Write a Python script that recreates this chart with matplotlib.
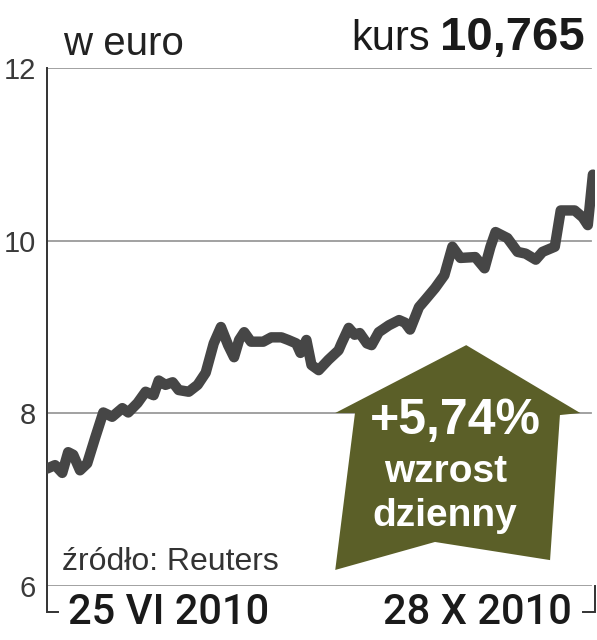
import matplotlib
matplotlib.use("Agg")
import matplotlib.pyplot as plt
from matplotlib.patches import Polygon

# days since 25 VI 2010 and EUR price
days = [0, 1.9, 3.6, 5.0, 6.2, 7.8, 9.5, 11.4, 13.3, 15.4, 17.8, 19.2, 21.4, 23.3,
        25.2, 26.4, 28.0, 29.7, 31.1, 33.5, 35.6, 37.5, 39.4, 41.1, 42.8, 44.2,
        45.4, 46.6, 48.2, 51.1, 53.0, 55.4, 57.0, 58.9, 59.9, 61.3, 62.5, 64.2,
        66.5, 68.9, 69.6, 71.3, 72.7, 73.9, 75.6, 76.7, 78.4, 80.8, 83.2, 84.6,
        85.8, 87.9, 89.3, 91.7, 93.9, 95.8, 97.7, 101.2, 103.4, 104.8, 106.0,
        108.8, 111.2, 113.1, 115.5, 117.1, 120.0, 121.4, 124.7, 126.6, 127.8, 129.0]
price = [7.36, 7.40, 7.31, 7.55, 7.52, 7.34, 7.42, 7.72, 8.01, 7.96, 8.06, 8.01, 8.12, 8.25,
         8.21, 8.38, 8.33, 8.36, 8.27, 8.25, 8.33, 8.47, 8.81, 9.00, 8.79, 8.65,
         8.85, 8.94, 8.83, 8.83, 8.88, 8.88, 8.85, 8.81, 8.70, 8.85, 8.56, 8.50,
         8.62, 8.73, 8.81, 8.99, 8.91, 8.93, 8.81, 8.79, 8.94, 9.02, 9.08, 9.05,
         8.97, 9.23, 9.31, 9.45, 9.60, 9.93, 9.80, 9.81, 9.68, 9.93, 10.10,
         10.03, 9.87, 9.85, 9.78, 9.87, 9.93, 10.35, 10.35, 10.27, 10.18, 10.765]

y_ticks = [6, 8, 10, 12]
date_labels = ["25 VI 2010", "28 X 2010"]
last_price = "10,765"
change = "+5,74%"

plt.rcParams['font.family'] = ['Liberation Sans', 'DejaVu Sans']
medium = ['Roboto', 'Liberation Sans', 'DejaVu Sans']

fig = plt.figure(figsize=(5.97, 6.4), dpi=100)
ax = fig.add_axes([47 / 597, 1 - 586 / 640, 548 / 597, 518 / 640])
ax.set_xlim(0, 129.5)
ax.set_ylim(6, 12)

for s in ax.spines.values():
    s.set_visible(False)
ax.set_xticks([])
ax.set_yticks(y_ticks)
ax.set_yticklabels([str(t) for t in y_ticks], fontsize=21, color='#3a3a3a')
ax.tick_params(axis='y', length=0, pad=8)
for t in y_ticks:
    ax.axhline(t, color='#9a9a9a', lw=1.3, xmax=0.993, zorder=1)

# left axis with bracket and right bracket
ax.plot([0, 0, 0.02], [1, -0.05, -0.05], transform=ax.transAxes, color='#333333',
        lw=1.4, clip_on=False, solid_joinstyle='miter')
ax.plot([1, 1, 0.978], [0, -0.05, -0.05], transform=ax.transAxes, color='#333333',
        lw=1.4, clip_on=False, solid_joinstyle='miter')

ax.plot(days, price, color='#464646', lw=7.5, solid_capstyle='round',
        solid_joinstyle='round', zorder=3)

# arrow badge
arrow = Polygon([(0.765, 0.465), (0.973, 0.334), (0.936, 0.330), (0.918, 0.050),
                 (0.708, 0.085), (0.526, 0.031), (0.562, 0.334), (0.526, 0.334)],
                closed=True, transform=ax.transAxes, facecolor='#5b5f28',
                edgecolor='none', zorder=4)
ax.add_patch(arrow)
ax.text(0.745, 0.318, change, transform=ax.transAxes, ha='center', va='center',
        fontsize=36, fontweight='bold', color='white', zorder=5)
ax.text(0.728, 0.220, "wzrost", transform=ax.transAxes, ha='center', va='center',
        fontsize=28, fontweight='bold', color='white', zorder=5)
ax.text(0.726, 0.135, "dzienny", transform=ax.transAxes, ha='center', va='center',
        fontsize=28, fontweight='bold', color='white', zorder=5)

ax.text(0.028, 0.03, "źródło: Reuters", transform=ax.transAxes, ha='left',
        va='baseline', fontsize=23, color='#333333')

fig.text(63 / 597, 1 - 55 / 640, "w euro", ha='left', va='baseline',
         fontsize=29, color='#222222')
fig.text(585 / 597, 1 - 50 / 640, last_price, ha='right', va='baseline',
         fontsize=34, fontweight='bold', color='#1a1a1a')
fig.text(430 / 597, 1 - 50 / 640, "kurs", ha='right', va='baseline',
         fontsize=30, color='#1a1a1a')

fig.text(68 / 597, 1 - 613 / 640, date_labels[0], ha='left', va='center',
         fontsize=30, fontweight='medium', color='#1a1a1a', family=medium)
fig.text(572 / 597, 1 - 613 / 640, date_labels[1], ha='right', va='center',
         fontsize=30, fontweight='medium', color='#1a1a1a', family=medium)

fig.savefig("out.png", dpi=100)
